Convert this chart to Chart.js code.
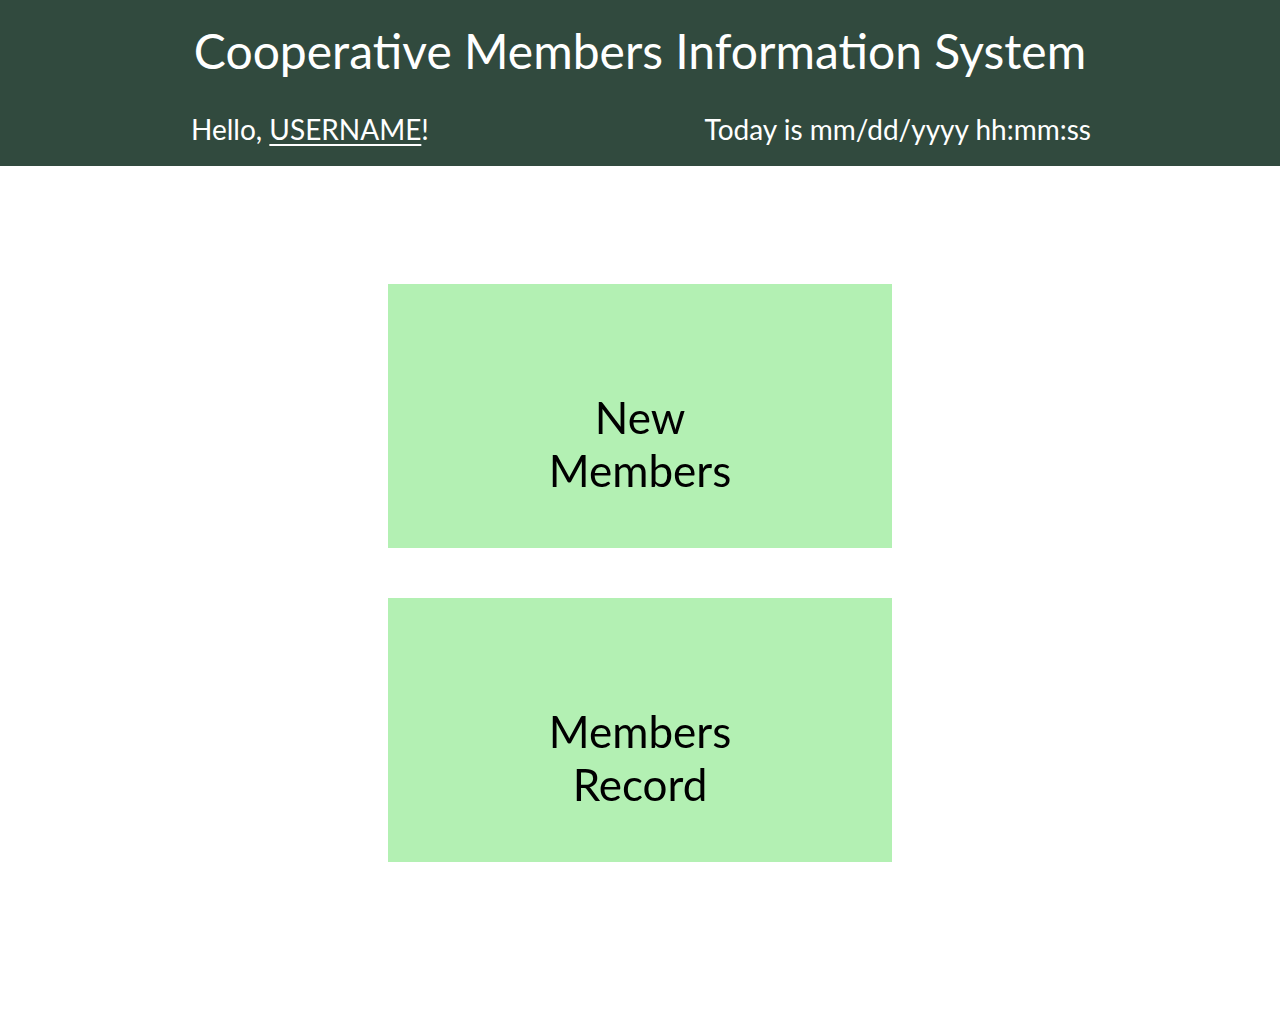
<!DOCTYPE html>
<html>
<head>
<meta charset="utf-8">
<script src="https://cdn.jsdelivr.net/npm/chart.js@4"></script>
<style>
  body { margin: 0; background: #fff; font-family: Lato, "Open Sans", sans-serif; }
  #header { position: absolute; left: 0; top: 0; width: 1280px; height: 166px; background: #314a3e; color: #fff; }
  #title { position: absolute; top: 22px; width: 100%; text-align: center; font-size: 48px; }
  #hello { position: absolute; left: 191px; top: 112px; font-size: 28px; }
  #hello u { text-decoration-thickness: 2px; text-underline-offset: 4px; }
  #today { position: absolute; right: 189px; top: 112px; font-size: 28px; }
  #wrap { position: absolute; left: 388px; top: 259px; width: 504px; height: 628px; }
</style>
</head>
<body>
<div id="header">
  <div id="title">Cooperative Members Information System</div>
  <div id="hello">Hello, <u>USERNAME</u>!</div>
  <div id="today">Today is mm/dd/yyyy hh:mm:ss</div>
</div>
<div id="wrap"><canvas id="menu"></canvas></div>
<script>
// menu tiles, one per category
var tileLabels = [["New", "Members"], ["Members", "Record"]];
var tileRanges = [[0, 1], [0, 1]];

var tileText = {
    id: 'tileText',
    afterDatasetsDraw: function (chart) {
        var ctx = chart.ctx;
        var meta = chart.getDatasetMeta(0);
        ctx.save();
        ctx.fillStyle = '#000';
        ctx.font = '44px Lato, "Open Sans", sans-serif';
        ctx.textAlign = 'center';
        ctx.textBaseline = 'middle';
        meta.data.forEach(function (bar, i) {
            var lines = tileLabels[i];
            var cx = chart.chartArea.left + chart.chartArea.width / 2;
            var start = bar.y + 30 - (lines.length - 1) * 26.5;
            lines.forEach(function (line, j) {
                ctx.fillText(line, cx, start + j * 53);
            });
        });
        ctx.restore();
    }
};

new Chart(document.getElementById('menu'), {
    type: 'bar',
    data: {
        labels: tileLabels.map(function (l) { return l.join(' '); }),
        datasets: [{
            data: tileRanges,
            backgroundColor: '#b3f0b3',
            borderWidth: 0,
            categoryPercentage: 1,
            barPercentage: 264 / 314
        }]
    },
    options: {
        indexAxis: 'y',
        animation: false,
        responsive: true,
        maintainAspectRatio: false,
        layout: { padding: 0 },
        scales: {
            x: { display: false, min: 0, max: 1 },
            y: { display: false }
        },
        plugins: { legend: { display: false }, tooltip: { enabled: false } }
    },
    plugins: [tileText]
});
</script>
</body>
</html>
